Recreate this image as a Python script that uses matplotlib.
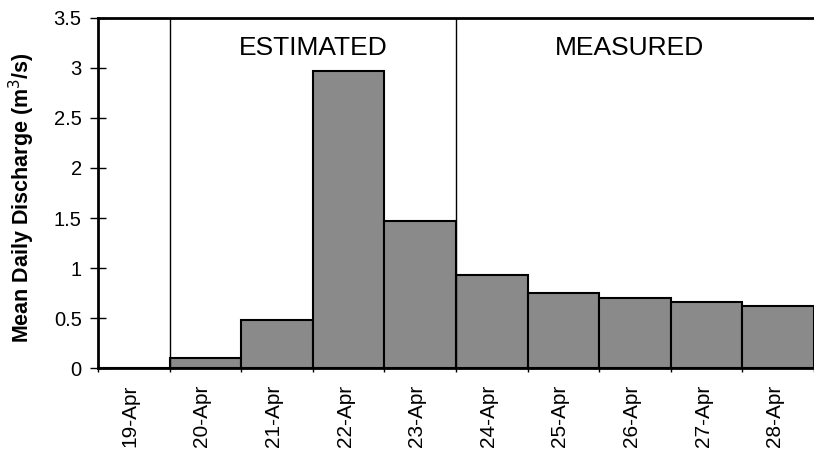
import numpy as np
from matplotlib import pyplot as plt
from matplotlib.ticker import FuncFormatter

days = ['19-Apr', '20-Apr', '21-Apr', '22-Apr', '23-Apr',
        '24-Apr', '25-Apr', '26-Apr', '27-Apr', '28-Apr']
discharge = [0.0, 0.1, 0.48, 2.97, 1.47, 0.93, 0.75, 0.70, 0.66, 0.62]
yticks = [0, 0.5, 1, 1.5, 2, 2.5, 3, 3.5]
# boundaries (in day index) between the estimated / measured periods
est_start = 1
meas_start = 5

plt.rcParams['font.family'] = ['Liberation Sans', 'DejaVu Sans']

fig = plt.figure(figsize=(8.14, 4.61), dpi=100)
ax = fig.add_axes([0.1204, 0.2017, 0.8796, 0.7593])

x = np.arange(len(days))
ax.bar(x + 0.5, discharge, width=1.0, color='#8a8a8a',
       edgecolor='black', linewidth=1.5, zorder=2)

ax.axvline(est_start, color='black', lw=1.0, zorder=3)
ax.axvline(meas_start, color='black', lw=1.0, zorder=3)

ax.text((est_start + meas_start) / 2, 3.2, 'ESTIMATED', ha='center',
        va='center', fontsize=19)
ax.text(meas_start + 2.43, 3.2, 'MEASURED', ha='center', va='center',
        fontsize=19)

ax.set_xlim(0, 716 / 72)
ax.set_ylim(0, 3.5)

ax.set_xticks(np.arange(len(days) + 1))
ax.set_xticklabels([])
ax.set_xticks(x + 0.45, minor=True)
ax.set_xticklabels(days, minor=True, rotation=90, fontsize=15)
ax.tick_params(axis='x', which='major', direction='inout', length=6, width=1)
ax.tick_params(axis='x', which='minor', length=0, pad=12)

ax.set_yticks(yticks)
ax.yaxis.set_major_formatter(FuncFormatter(lambda v, p: '%g' % v))
ax.tick_params(axis='y', direction='inout', length=11.5, width=1,
               labelsize=14.5, pad=6)

ax.set_ylabel('Mean Daily Discharge (m$^3$/s)', fontsize=15.5,
              fontweight='bold')
ax.yaxis.set_label_coords(-0.085, 0.486)

ax.spines['right'].set_visible(False)
for s in ['left', 'bottom', 'top']:
    ax.spines[s].set_linewidth(2)

fig.savefig('out.png', dpi=100)
